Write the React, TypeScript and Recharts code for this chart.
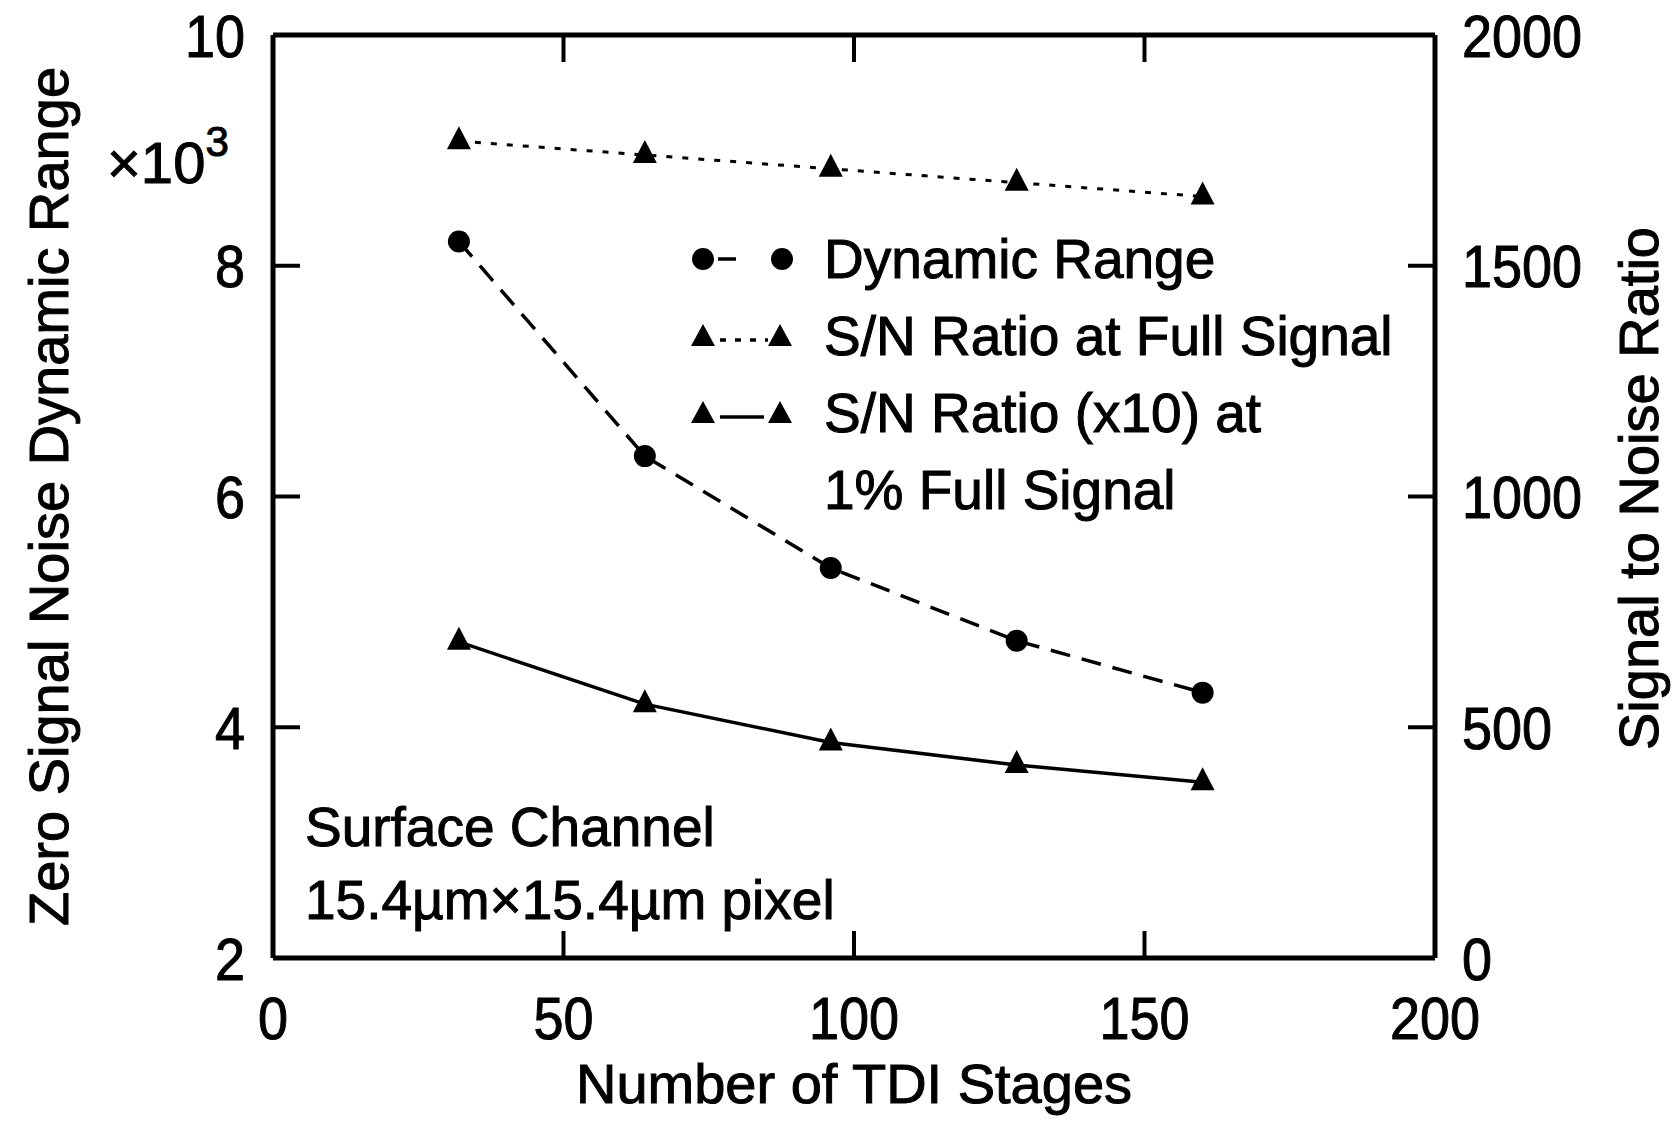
import React from 'react';
import { LineChart, Line, XAxis, YAxis, Legend, Label } from 'recharts';

// TDI stage counts and the three measured series
const stages = [32, 64, 96, 128, 160];
const dynamicRange = [8.21, 6.35, 5.38, 4.75, 4.3]; // x10^3, left axis
const snFullSignal = [1770, 1740, 1710, 1680, 1650]; // right axis
const snOnePercent = [685, 550, 467, 418, 381]; // right axis, already x10

const xTicks = [0, 50, 100, 150, 200];
const xInnerTicks = [50, 100, 150];
const leftTicks = [2, 4, 6, 8, 10];
const rightTicks = [0, 500, 1000, 1500, 2000];

const data = stages.map((s, i) => ({
  stages: s,
  dr: dynamicRange[i],
  snFull: snFullSignal[i],
  snLow: snOnePercent[i],
}));

const FONT = '"Liberation Sans", Arial, Helvetica, sans-serif';
const INK = '#000';
const FRAME = { stroke: INK, strokeWidth: 5 };
const TICK_LINE = { stroke: INK, strokeWidth: 4 };
const TEXT_STROKE = 1;

// slightly condensed tick numbers, like the old Helvetica typesetting
const NumberTick = (props: any) => {
  const { x, y, payload, textAnchor, verticalAnchor } = props;
  const dy = verticalAnchor === 'start' ? '0.72em' : '0.36em';
  return (
    <text
      transform={`translate(${x},${y}) scale(0.9,1)`}
      textAnchor={textAnchor}
      dy={dy}
      fontFamily={FONT}
      fontSize={60}
      fill={INK}
      stroke={INK}
      strokeWidth={TEXT_STROKE}
    >
      {payload.value}
    </text>
  );
};

const TriangleDot = (props: any) => {
  const { cx, cy, index } = props;
  if (cx == null || cy == null) return <g key={`t-${index}`} />;
  return (
    <path
      key={`t-${index}`}
      d={`M${cx},${cy - 15} L${cx + 12},${cy + 8} L${cx - 12},${cy + 8} Z`}
      fill={INK}
    />
  );
};

const tri = (cx: number, cy: number) => `M${cx},${cy - 14} L${cx + 12},${cy + 8} L${cx - 12},${cy + 8} Z`;

const LegendRow = ({ marker, text }: { marker: React.ReactNode; text: string }) => (
  <div style={{ display: 'flex', alignItems: 'center', height: 77 }}>
    <svg width={136} height={77} style={{ flex: 'none' }}>
      {marker}
    </svg>
    <span style={{ lineHeight: '77px', whiteSpace: 'nowrap' }}>{text}</span>
  </div>
);

const ChartLegend = () => (
  <div style={{ fontFamily: FONT, fontSize: 55, color: INK, WebkitTextStroke: `${TEXT_STROKE}px ${INK}` }}>
    <LegendRow
      text="Dynamic Range"
      marker={
        <g>
          <circle cx={15} cy={38} r={11} fill={INK} />
          <line x1={30} y1={38} x2={48} y2={38} stroke={INK} strokeWidth={3.5} />
          <circle cx={94} cy={38} r={11} fill={INK} />
        </g>
      }
    />
    <LegendRow
      text="S/N Ratio at Full Signal"
      marker={
        <g>
          <path d={tri(15, 40)} fill={INK} />
          <line x1={32} y1={42} x2={80} y2={42} stroke={INK} strokeWidth={3.5} strokeDasharray="6 9" />
          <path d={tri(92, 40)} fill={INK} />
        </g>
      }
    />
    <LegendRow
      text="S/N Ratio (x10) at"
      marker={
        <g>
          <path d={tri(15, 40)} fill={INK} />
          <line x1={32} y1={42} x2={76} y2={42} stroke={INK} strokeWidth={3.5} />
          <path d={tri(92, 40)} fill={INK} />
        </g>
      }
    />
    <LegendRow text="1% Full Signal" marker={null} />
  </div>
);

const titleProps = {
  fontFamily: FONT,
  fontSize: 56,
  fill: INK,
  stroke: INK,
  strokeWidth: TEXT_STROKE,
};

export default function App() {
  return (
    <div style={{ position: 'absolute', left: 0, top: 0, background: '#fff' }}>
      <LineChart width={1679} height={1121} data={data} margin={{ top: 0, right: 0, bottom: 0, left: 0 }}>
        <XAxis
          xAxisId="bottom"
          dataKey="stages"
          type="number"
          domain={[0, 200]}
          ticks={xTicks}
          height={163}
          axisLine={FRAME}
          tickLine={TICK_LINE}
          tickSize={-27}
          tickMargin={65}
          tick={<NumberTick />}
        >
          <Label
            content={({ viewBox }: any) => (
              <text x={viewBox.x + viewBox.width / 2} y={1103} textAnchor="middle" {...titleProps}>
                Number of TDI Stages
              </text>
            )}
          />
          <Label
            content={() => (
              <g {...titleProps} fontSize={55}>
                <text x={305} y={846}>Surface Channel</text>
                <text x={305} y={919}>15.4µm×15.4µm pixel</text>
              </g>
            )}
          />
        </XAxis>
        <XAxis
          xAxisId="top"
          orientation="top"
          dataKey="stages"
          type="number"
          domain={[0, 200]}
          ticks={xInnerTicks}
          height={35}
          axisLine={FRAME}
          tickLine={TICK_LINE}
          tickSize={-27}
          tick={() => <g />}
        />
        <YAxis
          yAxisId="left"
          type="number"
          domain={[2, 10]}
          ticks={leftTicks}
          width={273}
          axisLine={FRAME}
          tickLine={TICK_LINE}
          tickSize={-27}
          tickMargin={55}
          tick={<NumberTick />}
        >
          <Label
            content={({ viewBox }: any) => {
              const cy = viewBox.y + viewBox.height / 2;
              return (
                <text
                  x={48}
                  y={cy}
                  transform={`rotate(-90 48 ${cy})`}
                  textAnchor="middle"
                  dominantBaseline="central"
                  {...titleProps}
                >
                  Zero Signal Noise Dynamic Range
                </text>
              );
            }}
          />
          <Label
            content={() => (
              <text x={107} y={183} {...titleProps} fontSize={58}>
                ×10
                <tspan dy={-27} fontSize={42}>3</tspan>
              </text>
            )}
          />
        </YAxis>
        <YAxis
          yAxisId="right"
          orientation="right"
          type="number"
          domain={[0, 2000]}
          ticks={rightTicks}
          width={244}
          axisLine={FRAME}
          tickLine={TICK_LINE}
          tickSize={-27}
          tickMargin={54}
          tick={<NumberTick />}
        >
          <Label
            content={({ viewBox }: any) => {
              const cx = viewBox.x + 203;
              const cy = viewBox.y + viewBox.height / 2 - 8;
              return (
                <text
                  x={cx}
                  y={cy}
                  transform={`rotate(-90 ${cx} ${cy})`}
                  textAnchor="middle"
                  dominantBaseline="central"
                  {...titleProps}
                >
                  Signal to Noise Ratio
                </text>
              );
            }}
          />
        </YAxis>

        <Legend
          layout="vertical"
          align="center"
          verticalAlign="middle"
          wrapperStyle={{ position: 'absolute', left: 688, top: 221, width: 720 }}
          content={() => <ChartLegend />}
        />

        <Line
          xAxisId="bottom"
          yAxisId="left"
          dataKey="dr"
          stroke={INK}
          strokeWidth={3.5}
          strokeDasharray="20 12"
          dot={{ r: 11, fill: INK, stroke: 'none' }}
          activeDot={false}
          isAnimationActive={false}
        />
        <Line
          xAxisId="bottom"
          yAxisId="right"
          dataKey="snFull"
          stroke={INK}
          strokeWidth={3}
          strokeDasharray="6 10"
          dot={TriangleDot}
          activeDot={false}
          isAnimationActive={false}
        />
        <Line
          xAxisId="bottom"
          yAxisId="right"
          dataKey="snLow"
          stroke={INK}
          strokeWidth={3.5}
          dot={TriangleDot}
          activeDot={false}
          isAnimationActive={false}
        />
      </LineChart>
    </div>
  );
}
